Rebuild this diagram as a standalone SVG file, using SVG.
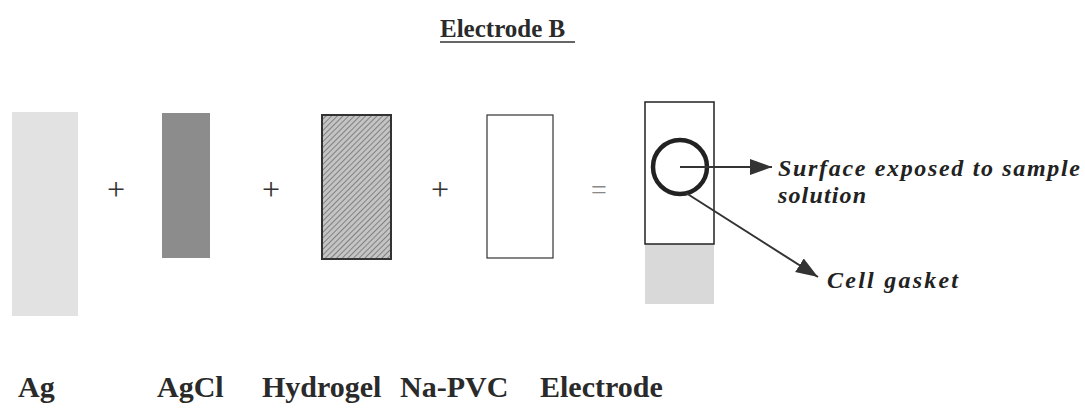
<svg xmlns="http://www.w3.org/2000/svg" width="1085" height="409" viewBox="0 0 1085 409">
<style>
text{font-family:'Liberation Serif','Times New Roman','DejaVu Serif',serif}
.lbl{font-weight:bold;font-size:30px;fill:#2a2a2a}
.title{font-weight:bold;font-size:25px;fill:#2a2a2a}
.ann{font-weight:bold;font-style:italic;font-size:24px;fill:#222}
.op{font-size:32px;fill:#333}
.conn{stroke:#333;stroke-width:2;fill:none}
</style>
<defs>
<pattern id="hatch" width="4" height="4" patternUnits="userSpaceOnUse" patternTransform="rotate(45)">
<rect width="4" height="4" fill="#c4c4c4"/>
<line x1="0" y1="0" x2="0" y2="4" stroke="#707070" stroke-width="1.6"/>
</pattern>
<marker id="arr" markerUnits="userSpaceOnUse" markerWidth="24" markerHeight="18" refX="22" refY="8" orient="auto">
<path d="M0,0 L22,8 L0,16 Z" fill="#333"/>
</marker>
</defs>
<rect width="1085" height="409" fill="#fff"/>
<g id="title">
<text class="title" x="440" y="37" font-family="Liberation Serif, serif">Electrode B</text>
<line x1="440" y1="42" x2="575" y2="42" stroke="#333" stroke-width="1.5"/>
</g>
<g id="ag">
<rect x="12" y="112" width="66" height="204" fill="#e2e2e2"/>
<text class="lbl" x="18" y="397" font-family="Liberation Serif, serif">Ag</text>
</g>
<text class="op" x="107" y="200" font-family="Liberation Serif, serif">+</text>
<g id="agcl">
<rect x="162" y="113" width="48" height="145" fill="#8c8c8c"/>
<text class="lbl" x="157" y="397" font-family="Liberation Serif, serif">AgCl</text>
</g>
<text class="op" x="262" y="200" font-family="Liberation Serif, serif">+</text>
<g id="hydrogel">
<rect x="322" y="115" width="69" height="144" fill="url(#hatch)" stroke="#333" stroke-width="2"/>
<text class="lbl" x="262" y="397" font-family="Liberation Serif, serif">Hydrogel</text>
</g>
<text class="op" x="431" y="200" font-family="Liberation Serif, serif">+</text>
<g id="napvc">
<rect x="487" y="115" width="66" height="143" fill="#fff" stroke="#333" stroke-width="1.2"/>
<text class="lbl" x="400" y="397" font-family="Liberation Serif, serif">Na-PVC</text>
</g>
<text class="op" x="591" y="199" font-family="Liberation Serif, serif" style="fill:#888;font-size:28px">=</text>
<g id="electrode">
<rect x="645" y="244" width="69" height="60" fill="#d9d9d9"/>
<rect x="645" y="102" width="69" height="142" fill="none" stroke="#222" stroke-width="1.5"/>
<circle cx="680" cy="167" r="27" fill="none" stroke="#222" stroke-width="4.5"/>
<text class="lbl" x="540" y="397" font-family="Liberation Serif, serif">Electrode</text>
</g>
<g id="connectors">
<line class="conn" x1="680" y1="167" x2="772" y2="167" marker-end="url(#arr)"/>
<line class="conn" x1="686" y1="193" x2="818" y2="277" marker-end="url(#arr)"/>
</g>
<g id="surface-label">
<text class="ann" x="778" y="176" font-family="Liberation Serif, serif" textLength="302" lengthAdjust="spacing">Surface exposed to sample</text>
<text class="ann" x="778" y="203" font-family="Liberation Serif, serif" textLength="88" lengthAdjust="spacing">solution</text>
</g>
<g id="gasket-label">
<text class="ann" x="827" y="288" font-family="Liberation Serif, serif" textLength="131" lengthAdjust="spacing">Cell gasket</text>
</g>
</svg>
